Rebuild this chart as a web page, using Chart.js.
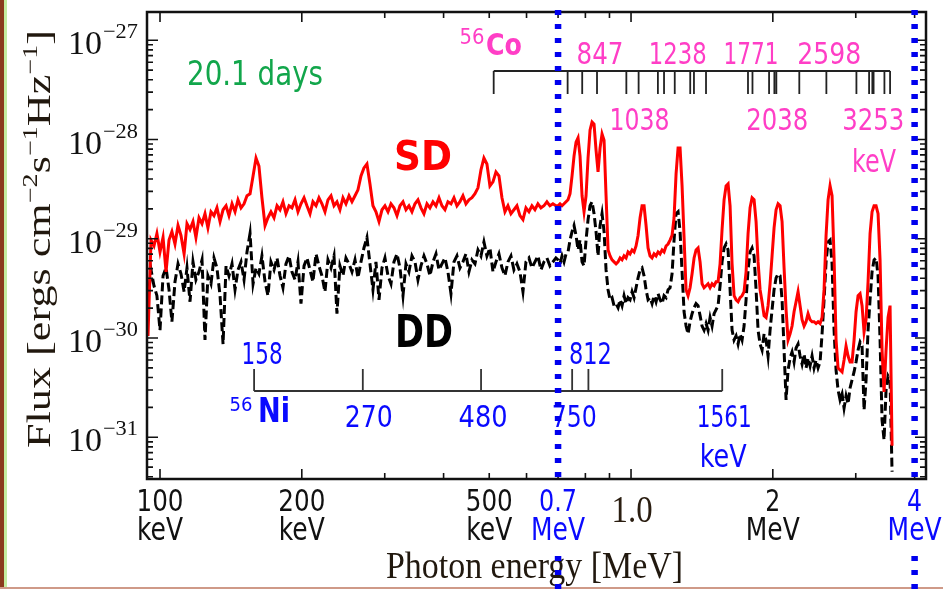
<!DOCTYPE html>
<html>
<head>
<meta charset="utf-8">
<script src="https://cdn.jsdelivr.net/npm/chart.js@4.4.1/dist/chart.umd.min.js"></script>
<style>
html, body { margin: 0; padding: 0; background: #fff; }
canvas { display: block; }
</style>
</head>
<body>
<canvas id="myChart" width="943" height="589"></canvas>
<script>
// photon energy (keV), shared by both spectra
var energyKeV = [
  94.3, 95.7, 97.1, 98.5, 100.0, 101.5, 103.0, 104.5, 106.0, 107.6,
  109.2, 110.8, 112.5, 114.1, 115.8, 117.5, 119.2, 121.0, 122.8, 124.6,
  126.4, 128.3, 130.2, 132.1, 134.1, 136.1, 138.1, 140.1, 142.2, 144.3,
  146.4, 148.6, 150.8, 153.0, 155.3, 157.6, 159.9, 162.2, 164.6, 167.1,
  169.5, 172.0, 174.6, 177.2, 179.8, 182.4, 185.1, 187.9, 190.6, 193.5,
  196.3, 199.2, 202.2, 205.1, 208.2, 211.2, 214.4, 217.5, 220.7, 224.0,
  227.3, 230.7, 234.1, 237.5, 241.0, 244.6, 248.2, 251.9, 255.6, 259.4,
  263.2, 267.1, 271.0, 275.0, 279.1, 283.2, 287.4, 291.7, 296.0, 300.3,
  304.8, 309.3, 313.8, 318.5, 323.2, 328.0, 332.8, 337.7, 342.7, 347.8,
  352.9, 358.1, 363.4, 368.8, 374.2, 379.8, 385.4, 391.1, 396.8, 402.7,
  408.6, 414.7, 420.8, 427.0, 433.3, 439.7, 446.2, 452.8, 459.5, 466.3,
  473.2, 480.2, 487.2, 494.4, 501.7, 509.2, 516.7, 524.3, 532.1, 539.9,
  547.9, 556.0, 564.2, 572.5, 581.0, 589.6, 598.3, 607.1, 616.1, 625.2,
  634.4, 643.8, 653.3, 662.9, 672.7, 682.6, 692.7,
  699.9, 706.7, 713.7, 720.7, 727.8, 734.9, 742.2, 749.5, 756.8, 764.3,
  771.8, 779.4, 787.1, 794.8, 802.6, 810.5, 818.5, 826.5, 834.6, 842.8,
  851.1, 859.5, 867.9, 876.5, 885.1, 893.8, 902.6, 911.5, 920.4, 929.5,
  938.6, 947.8, 957.1, 966.5, 976.0, 985.6, 995.3, 1005.1, 1015.0, 1024.9,
  1035.0, 1045.2, 1055.4, 1065.8, 1076.3, 1086.8, 1097.5, 1108.3, 1119.2, 1130.2,
  1141.3, 1152.5, 1163.8, 1175.2, 1186.8, 1198.5, 1210.2, 1222.1, 1234.1, 1246.3,
  1258.5, 1270.9, 1283.4, 1296.0, 1308.7, 1321.6, 1334.6, 1347.7, 1361.0, 1374.3,
  1387.8, 1401.5, 1415.2, 1429.1, 1443.2, 1457.4, 1471.7, 1486.2, 1500.8, 1515.5,
  1530.4, 1545.4, 1560.6, 1576.0, 1591.5, 1607.1, 1622.9, 1638.8, 1654.9, 1671.2,
  1687.6, 1704.2, 1720.9, 1737.8, 1754.9, 1772.1, 1789.5, 1807.1, 1824.9, 1842.8,
  1860.9, 1879.2, 1897.6, 1916.3, 1935.1, 1954.1, 1973.3, 1992.7, 2012.3, 2032.1,
  2052.0, 2072.2, 2092.5, 2113.1, 2133.8, 2154.8, 2176.0, 2197.3, 2218.9, 2240.7,
  2262.7, 2285.0, 2307.4, 2330.1, 2353.0, 2376.1, 2399.4, 2423.0, 2446.8, 2470.8,
  2495.1, 2519.6, 2544.4, 2569.4, 2594.6, 2620.1, 2645.8, 2671.8, 2698.1, 2724.6,
  2751.3, 2778.4, 2805.7, 2833.2, 2861.1, 2889.2, 2917.5, 2946.2, 2975.2, 3004.4,
  3033.9, 3063.7, 3093.8, 3124.2, 3154.9, 3185.9, 3217.2, 3248.8, 3280.7, 3312.9,
  3345.5, 3378.3, 3411.5, 3445.0, 3478.9, 3513.0, 3547.5, 3582.4
];

// flux in units of 1e-30 ergs cm^-2 s^-1 Hz^-1
var sdFlux = [
  1.05, 9.7, 8.46, 11.3, 7.37, 10.3, 4.65, 9.7, 11.8, 8.86,
  13.6, 10.8, 7.04, 14.2, 12.4, 14.9, 10.3, 16.3, 14.2, 17.9,
  12.9, 18.7, 17.1, 20.5, 14.9, 19.6, 21.5, 17.1, 22.5, 18.7,
  24.7, 20.5, 22.5, 27.1, 28.4, 43.0, 65.1, 54.1, 25.9, 13.6,
  16.3, 18.7, 16.3, 21.5, 19.6, 23.6, 17.9, 21.5, 20.5, 24.7,
  18.7, 22.5, 25.9, 21.5, 17.9, 23.6, 21.5, 25.9, 22.5, 18.7,
  24.7, 27.1, 21.5, 23.6, 19.6, 25.9, 22.5, 27.1, 23.6, 27.1,
  31.1, 43.0, 51.7, 56.7, 35.7, 21.5, 18.7, 14.9, 19.6, 21.5,
  18.7, 22.5, 20.5, 17.1, 21.5, 23.6, 19.6, 21.5, 18.7, 22.5,
  24.7, 20.5, 17.9, 22.5, 20.5, 23.6, 21.5, 25.9, 21.5, 19.6,
  23.6, 22.5, 25.9, 21.5, 23.6, 27.1, 22.5, 24.7, 25.9, 28.4,
  32.6, 49.4, 65.1, 56.7, 34.1, 37.4, 47.1, 43.0, 25.9, 18.7,
  21.5, 17.9, 19.6, 21.5, 17.1, 15.6, 20.5, 18.7, 21.5, 19.6,
  22.5, 20.5, 21.5, 23.6, 21.5, 22.5, 21.5,
  21.5, 22.5, 21.5, 22.5, 23.6, 24.7, 28.4, 43.0, 68.1, 94.1,
  104, 68.1, 27.1, 18.7, 27.1, 65.1, 125, 150, 143, 78.2,
  47.1, 81.9, 114, 98.5, 27.1, 7.72, 6.72, 6.13, 5.85, 5.59,
  5.85, 6.41, 6.13, 6.72, 6.41, 7.37, 7.04, 7.72, 7.37, 8.46,
  10.8, 16.3, 21.5, 21.5, 13.6, 8.08, 6.72, 6.41, 7.04, 6.72,
  7.37, 7.04, 7.72, 7.37, 8.46, 8.86, 9.7, 10.8, 16.3, 45.0,
  81.9, 81.9, 34.1, 10.3, 3.07, 2.67, 3.21, 4.44, 6.41, 7.72,
  8.08, 5.85, 3.52, 3.21, 3.36, 3.52, 3.21, 3.52, 3.36, 3.69,
  3.69, 5.59, 12.4, 24.7, 34.1, 35.7, 21.5, 5.59, 2.67, 2.43,
  2.32, 2.55, 2.67, 2.93, 4.65, 11.3, 20.5, 25.9, 24.7, 14.9,
  5.85, 3.07, 2.32, 1.68, 1.61, 2.12, 3.52, 6.72, 12.9, 19.6,
  22.5, 21.5, 14.9, 5.09, 1.93, 0.955, 1.10, 1.32, 1.84, 2.32,
  2.93, 2.12, 1.53, 1.32, 1.46, 1.76, 1.53, 1.46, 1.46, 1.40,
  1.46, 1.40, 1.61, 3.07, 10.8, 24.7, 34.1, 27.1, 6.41, 0.955,
  0.499, 0.476, 0.455, 0.600, 0.831, 0.659, 0.573, 0.573, 0.955, 1.84,
  2.67, 2.80, 2.12, 1.15, 1.53, 3.69, 11.3, 18.7, 21.5, 21.5,
  17.9, 6.13, 0.757, 0.286, 0.757, 1.61, 2.12, 0.082
];

var ddFlux = [
  2.43, 4.86, 3.36, 2.67, 1.20, 4.24, 5.09, 3.07, 1.46, 3.69,
  5.59, 4.44, 2.93, 5.09, 2.32, 5.85, 3.86, 4.65, 6.13, 0.955,
  4.24, 3.52, 6.41, 5.09, 2.67, 0.870, 5.33, 4.24, 5.59, 3.07,
  4.86, 5.85, 3.86, 7.37, 11.3, 3.52, 5.09, 4.44, 6.72, 3.69,
  2.67, 5.85, 4.86, 6.41, 4.24, 3.21, 5.59, 6.72, 4.65, 3.86,
  5.85, 2.22, 5.33, 6.41, 4.86, 3.69, 7.04, 5.33, 4.24, 2.93,
  6.13, 5.09, 6.72, 1.76, 5.33, 4.24, 6.41, 5.59, 4.65, 6.13,
  4.04, 5.85, 8.08, 10.3, 5.59, 3.07, 5.85, 2.43, 5.09, 6.41,
  4.24, 3.52, 5.85, 7.04, 5.09, 2.67, 5.59, 4.65, 6.72, 5.85,
  3.86, 5.33, 6.72, 5.59, 4.24, 5.85, 7.04, 4.86, 5.59, 6.41,
  4.65, 2.80, 5.85, 6.72, 5.09, 5.85, 7.04, 4.65, 6.13, 5.59,
  7.72, 6.72, 9.28, 6.72, 8.08, 4.65, 5.85, 7.04, 5.09, 4.24,
  5.85, 6.72, 4.86, 5.59, 4.65, 2.93, 5.85, 6.41, 5.09, 5.85,
  6.72, 4.86, 5.85, 6.41, 5.33, 5.85, 6.41,
  6.13, 5.59, 6.72, 5.85, 7.04, 7.37, 9.7, 11.8, 13.6, 10.8,
  7.72, 9.7, 5.85, 5.33, 9.7, 15.6, 21.5, 23.6, 17.9, 11.8,
  6.72, 13.6, 17.9, 11.8, 4.86, 3.07, 2.43, 2.55, 2.12, 2.22,
  2.02, 2.43, 2.12, 2.67, 2.22, 2.55, 2.43, 2.93, 2.55, 3.21,
  4.04, 4.86, 5.09, 4.24, 3.07, 2.43, 2.55, 2.22, 2.67, 2.32,
  2.80, 2.43, 2.22, 2.67, 2.55, 3.07, 3.21, 4.44, 9.7, 17.9,
  18.7, 11.8, 4.65, 1.84, 1.32, 1.10, 1.46, 1.76, 2.02, 2.22,
  2.12, 1.68, 1.32, 1.20, 1.40, 1.20, 1.61, 1.32, 1.76, 1.93,
  2.12, 3.36, 5.85, 8.08, 8.86, 7.72, 3.07, 1.20, 0.955, 1.05,
  0.870, 1.10, 0.955, 1.32, 2.43, 4.86, 7.37, 8.08, 6.72, 3.07,
  1.20, 0.870, 0.757, 1.10, 0.955, 0.659, 1.20, 1.93, 3.07, 4.04,
  4.44, 4.24, 2.43, 0.757, 0.238, 0.476, 0.629, 0.723, 0.573, 0.793,
  0.870, 0.659, 0.547, 0.690, 0.499, 0.629, 0.523, 0.659, 0.499, 0.600,
  0.499, 0.573, 1.10, 2.43, 5.85, 9.28, 9.7, 5.59, 1.20, 0.476,
  0.300, 0.238, 0.273, 0.197, 0.261, 0.217, 0.314, 0.378, 0.455, 0.573,
  0.757, 0.911, 0.831, 0.188, 0.378, 1.20, 2.43, 4.65, 6.13, 6.41,
  4.24, 0.955, 0.149, 0.094, 0.300, 0.414, 0.378, 0.045
];

// axis ticks
var xTickValues = [100, 200, 500, 700, 1000, 2000, 4000];
var xTickNumbers = ['100', '200', '500', '0.7', '1.0', '2', '4'];
var xTickUnits = ['keV', 'keV', 'keV', 'MeV', '', 'MeV', 'MeV'];
var yTickValues = [1e-27, 1e-28, 1e-29, 1e-30, 1e-31];
var yTickExponents = ['\u221227', '\u221228', '\u221229', '\u221230', '\u221231'];

// line ladders (keV)
var coLines = [511, 733.5, 787.7, 846.8, 977.4, 1037.8, 1140.4, 1175.1, 1238.3, 1335.6, 1360.2,
  1442.8, 1771.4, 1810.7, 1963.7, 2015.2, 2034.8, 2276.4, 2598.5, 3009.6, 3202.0, 3253.4,
  3273.1, 3451.2, 3548.0];
var coTopLabels = ['847', '1238', '1771', '2598'];
var coTopEnergies = [846.8, 1238.3, 1771.4, 2598.5];
var coBottomLabels = ['1038', '2038', '3253'];
var coBottomEnergies = [1037.8, 2034.8, 3253.4];
var niLines = [158.4, 269.5, 480.4, 749.9, 811.9, 1561.8];
var niLabels = ['158', '270', '480', '750', '812', '1561'];
var markerEnergies = [700, 4000];

var COMIC = '"DejaVu Sans", sans-serif';
var SERIF = '"Liberation Serif", "DejaVu Serif", serif';
var BLUE = '#0a0aff';
var PINK = '#ff3ec6';

function pts(values) {
  var out = [];
  for (var i = 0; i < energyKeV.length; i++) {
    out.push({ x: energyKeV[i], y: values[i] * 1e-30 });
  }
  return out;
}

// text squeezed to a given width, centred on cx
function fitText(ctx, str, cx, base, font, color, width) {
  ctx.save();
  ctx.font = font;
  ctx.fillStyle = color;
  ctx.textAlign = 'center';
  ctx.textBaseline = 'alphabetic';
  var w = ctx.measureText(str).width;
  ctx.translate(cx, base);
  if (width) ctx.scale(width / w, 1);
  ctx.fillText(str, 0, 0);
  ctx.restore();
}

// runs of [text, superscript?] laid out along a line, squeezed to a length
function richText(ctx, parts, x, y, angle, size, supSize, color, length) {
  ctx.save();
  ctx.fillStyle = color;
  ctx.textBaseline = 'alphabetic';
  ctx.textAlign = 'left';
  var total = 0;
  parts.forEach(function (p) {
    ctx.font = (p[1] ? supSize : size) + 'px ' + SERIF;
    total += ctx.measureText(p[0]).width;
  });
  ctx.translate(x, y);
  ctx.rotate(angle);
  ctx.scale(length / total, 1);
  var pos = 0;
  parts.forEach(function (p) {
    ctx.font = (p[1] ? supSize : size) + 'px ' + SERIF;
    ctx.fillText(p[0], pos, p[1] ? -size * 0.4 : 0);
    pos += ctx.measureText(p[0]).width;
  });
  ctx.restore();
}

var decorations = {
  id: 'decorations',
  beforeDraw: function (chart) {
    var ctx = chart.ctx;
    ctx.save();
    ctx.fillStyle = '#ffffff';
    ctx.fillRect(0, 0, chart.width, chart.height);
    ctx.fillStyle = '#8a3b1d';
    ctx.fillRect(0, 0, 4, chart.height);
    ctx.fillStyle = '#c4eda0';
    ctx.fillRect(4, 0, 3, chart.height);
    ctx.fillStyle = '#cf9a88';
    ctx.fillRect(0, chart.height - 2, chart.width, 2);
    ctx.restore();
  },
  afterDraw: function (chart) {
    var ctx = chart.ctx;
    var a = chart.chartArea;
    var xs = chart.scales.x;
    var ys = chart.scales.y;
    ctx.save();

    // frame
    ctx.strokeStyle = '#111';
    ctx.lineWidth = 2.5;
    ctx.strokeRect(a.left, a.top, a.right - a.left, a.bottom - a.top);

    // inside ticks
    ctx.lineWidth = 1.6;
    ctx.beginPath();
    [100, 1000].forEach(function (dec) {
      for (var m = 1; m <= 9; m++) {
        var v = m * dec;
        if (v < xs.min || v > xs.max) continue;
        var px = xs.getPixelForValue(v);
        var len = (m === 1 || m === 2) ? 10 : 6;
        ctx.moveTo(px, a.bottom); ctx.lineTo(px, a.bottom - len);
        ctx.moveTo(px, a.top); ctx.lineTo(px, a.top + len);
      }
    });
    for (var e = -32; e <= -27; e++) {
      for (var m = 1; m <= 9; m++) {
        var v = m * Math.pow(10, e);
        if (v < ys.min || v > ys.max) continue;
        var py = ys.getPixelForValue(v);
        var len = m === 1 ? 11 : 6;
        ctx.moveTo(a.left, py); ctx.lineTo(a.left + len, py);
        ctx.moveTo(a.right, py); ctx.lineTo(a.right - len, py);
      }
    }
    ctx.stroke();

    // y tick labels
    yTickValues.forEach(function (v, i) {
      var py = ys.getPixelForValue(v);
      fitText(ctx, '10', 85, py + 14, '34px ' + SERIF, '#111', 34);
      fitText(ctx, yTickExponents[i], 120.5, py - 2, '21px ' + SERIF, '#111', 35);
    });

    // x tick labels
    xTickValues.forEach(function (v, i) {
      var px = xs.getPixelForValue(v);
      var blue = (v === 700 || v === 4000);
      var col = blue ? BLUE : '#111';
      if (v === 1000) {
        fitText(ctx, '1.0', px + 1, 522, '38px ' + SERIF, '#2a1d10', 41);
        return;
      }
      var numW = xTickNumbers[i].length === 1 ? 15 : (xTickNumbers[i].length === 3 && v !== 700 ? 47 : 38);
      fitText(ctx, xTickNumbers[i], px, 511, '30px ' + COMIC, col, numW);
      fitText(ctx, xTickUnits[i], px, 540, '32px ' + COMIC, col, xTickUnits[i] === 'keV' ? 46 : 54);
    });

    // axis titles
    richText(ctx, [['Photon energy [MeV]', false]], 386, 578, 0, 37, 22, '#21180e', 297);
    richText(ctx, [['Flux [ergs cm', false], ['\u22122', true], ['s', false], ['\u22121', true],
      ['Hz', false], ['\u22121', true], [']', false]], 50, 448, -Math.PI / 2, 33, 21, '#21180e', 418);

    // 56Co ladder
    var coY = 71;
    ctx.strokeStyle = '#222';
    ctx.lineWidth = 1.8;
    ctx.beginPath();
    ctx.moveTo(xs.getPixelForValue(coLines[0]), coY);
    ctx.lineTo(xs.getPixelForValue(coLines[coLines.length - 1]), coY);
    coLines.forEach(function (E) {
      var px = xs.getPixelForValue(E);
      ctx.moveTo(px, coY); ctx.lineTo(px, coY + 23);
    });
    ctx.stroke();

    // 56Ni ladder
    var niY = 391;
    ctx.strokeStyle = '#333';
    ctx.beginPath();
    ctx.moveTo(xs.getPixelForValue(niLines[0]), niY);
    ctx.lineTo(xs.getPixelForValue(niLines[niLines.length - 1]), niY);
    niLines.forEach(function (E) {
      var px = xs.getPixelForValue(E);
      ctx.moveTo(px, niY); ctx.lineTo(px, niY - 22);
    });
    ctx.stroke();

    // Co labels
    fitText(ctx, '56', 472, 44, '22px ' + COMIC, PINK, 25);
    fitText(ctx, 'Co', 504, 55, 'bold 31px ' + COMIC, PINK, 36);
    var topW = [47, 58, 55, 64];
    coTopLabels.forEach(function (t, i) {
      fitText(ctx, t, xs.getPixelForValue(coTopEnergies[i]) + 3, 64, '31px ' + COMIC, PINK, topW[i]);
    });
    var botW = [60, 62, 62];
    coBottomLabels.forEach(function (t, i) {
      fitText(ctx, t, xs.getPixelForValue(coBottomEnergies[i]) + 1, 130, '31px ' + COMIC, PINK, botW[i]);
    });
    fitText(ctx, 'keV', 874, 172, '32px ' + COMIC, PINK, 44);

    // Ni labels
    var niW = [41, 48, 49, 45, 43, 55];
    niLabels.forEach(function (t, i) {
      var px = xs.getPixelForValue(niLines[i]);
      var above = (t === '158' || t === '812');
      var cx = t === '158' ? px + 8 : (t === '270' ? px + 6 : px + 2);
      fitText(ctx, t, cx, above ? 364 : 427, '31px ' + COMIC, BLUE, niW[i]);
    });
    fitText(ctx, 'keV', xs.getPixelForValue(1561.8) + 1, 467, '32px ' + COMIC, BLUE, 47);
    fitText(ctx, '56', 241, 411, '19px ' + COMIC, BLUE, 23);
    fitText(ctx, 'Ni', 274, 422, 'bold 33px ' + COMIC, BLUE, 32);

    // other annotations
    fitText(ctx, '20.1 days', 255, 85, '33px ' + COMIC, '#12a64b', 136);
    fitText(ctx, 'SD', 423, 170, 'bold 41px ' + COMIC, '#ff0000', 58);
    fitText(ctx, 'DD', 424, 347, 'bold 45px ' + COMIC, '#000000', 58);

    // blue dotted markers at 0.7 and 4 MeV
    ctx.strokeStyle = '#0000ee';
    ctx.lineWidth = 6.5;
    ctx.setLineDash([5, 9]);
    markerEnergies.forEach(function (E) {
      var px = xs.getPixelForValue(E);
      ctx.beginPath();
      ctx.moveTo(px, 10); ctx.lineTo(px, a.bottom + 2);
      ctx.moveTo(px, 556); ctx.lineTo(px, chart.height);
      ctx.stroke();
    });
    ctx.setLineDash([]);
    ctx.restore();
  }
};

var ctx = document.getElementById('myChart');
var myChart = new Chart(ctx, {
  type: 'line',
  data: {
    datasets: [{
      label: 'SD',
      data: pts(sdFlux),
      borderColor: '#ff0000',
      borderWidth: 3,
      pointRadius: 0,
      tension: 0,
      fill: false
    }, {
      label: 'DD',
      data: pts(ddFlux),
      borderColor: '#000000',
      borderWidth: 3,
      borderDash: [9, 4],
      pointRadius: 0,
      tension: 0,
      fill: false
    }]
  },
  options: {
    responsive: false,
    animation: false,
    devicePixelRatio: 1,
    layout: { padding: { left: 147, right: 17, top: 12, bottom: 110 } },
    plugins: { legend: { display: false }, tooltip: { enabled: false } },
    scales: {
      x: { type: 'logarithmic', min: 93.84, max: 4229, display: false },
      y: { type: 'logarithmic', min: 3.8e-32, max: 1.926e-27, display: false }
    }
  },
  plugins: [decorations]
});
</script>
</body>
</html>
